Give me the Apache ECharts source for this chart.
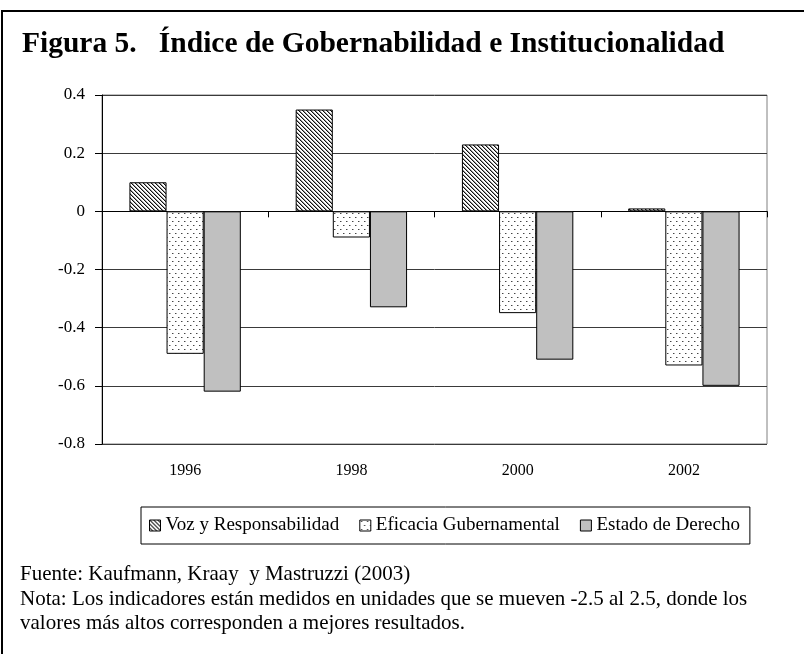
<!DOCTYPE html>
<html>
<head>
<meta charset="utf-8">
<script src="https://cdn.jsdelivr.net/npm/echarts@6/dist/echarts.min.js"></script>
<style>
  html, body { margin: 0; padding: 0; background: #fff; }
  #chart { width: 804px; height: 654px; }
</style>
</head>
<body>
<div id="chart"></div>
<script>
  const years = ['1996', '1998', '2000', '2002']
  const seriesNames = ['Voz y Responsabilidad', 'Eficacia Gubernamental', 'Estado de Derecho']
  const voz = [0.10, 0.35, 0.23, 0.01]
  const eficacia = [-0.49, -0.09, -0.35, -0.53]
  const estado = [-0.62, -0.33, -0.51, -0.60]
  const yTicks = { min: -0.8, max: 0.4, step: 0.2 }

  const titleText = 'Figura 5.   Índice de Gobernabilidad e Institucionalidad'
  const footLines = [
    'Fuente: Kaufmann, Kraay  y Mastruzzi (2003)',
    'Nota: Los indicadores están medidos en unidades que se mueven -2.5 al 2.5, donde los',
    'valores más altos corresponden a mejores resultados.'
  ]

  const serif = '"Liberation Serif", "Times New Roman", serif'

  // diagonal hatch tile
  function hatchTile() {
    const c = document.createElement('canvas')
    c.width = 4; c.height = 4
    const ctx = c.getContext('2d')
    ctx.fillStyle = '#fff'
    ctx.fillRect(0, 0, 4, 4)
    for (let y = 0; y < 4; y++) {
      for (let x = 0; x < 4; x++) {
        const d = ((x - y) % 4 + 4) % 4
        if (d === 0) { ctx.fillStyle = '#111'; ctx.fillRect(x, y, 1, 1) }
        else if (d === 1) { ctx.fillStyle = '#999'; ctx.fillRect(x, y, 1, 1) }
      }
    }
    return c
  }

  // sparse dot tile
  function dotTile() {
    const c = document.createElement('canvas')
    c.width = 6; c.height = 8
    const ctx = c.getContext('2d')
    ctx.fillStyle = '#fff'
    ctx.fillRect(0, 0, 6, 8)
    ctx.fillStyle = '#444'
    ctx.fillRect(1, 1, 1, 1)
    ctx.fillRect(4, 5, 1, 1)
    ctx.fillStyle = '#aaa'
    ctx.fillRect(2, 1, 1, 1)
    ctx.fillRect(5, 5, 1, 1)
    return c
  }

  const fills = [
    { image: hatchTile(), repeat: 'repeat' },
    { image: dotTile(), repeat: 'repeat' },
    '#c0c0c0'
  ]
  const values = [voz, eficacia, estado]

  const chart = echarts.init(document.getElementById('chart'), null, { renderer: 'canvas' })
  chart.setOption({
    backgroundColor: '#fff',
    animation: false,
    title: {
      text: titleText,
      left: 17,
      top: 24,
      textStyle: { fontFamily: serif, fontWeight: 'bold', fontSize: 29.5, color: '#000' }
    },
    grid: {
      left: 102, top: 95, right: 37, bottom: 210,
      show: true, borderColor: '#808080', borderWidth: 1, backgroundColor: '#fff'
    },
    legend: {
      left: 141,
      top: 507,
      padding: [9, 10, 9, 8],
      borderColor: '#000',
      borderWidth: 1,
      itemWidth: 11,
      itemHeight: 11,
      itemGap: 20,
      icon: 'rect',
      itemStyle: { borderColor: '#000', borderWidth: 1 },
      textStyle: { fontFamily: serif, fontSize: 19, color: '#000', padding: [0, 0, 0, 0] },
      data: seriesNames
    },
    xAxis: [{
      type: 'category',
      data: years,
      axisLine: { onZero: true, lineStyle: { color: '#000', width: 1 } },
      axisTick: { show: true, length: 6, lineStyle: { color: '#000' } },
      axisLabel: { show: false },
      splitLine: { show: false }
    }, {
      type: 'category',
      data: years,
      position: 'bottom',
      axisLine: { show: false, onZero: false },
      axisTick: { show: false },
      axisLabel: { fontFamily: serif, fontSize: 16, color: '#000', margin: 19 }
    }],
    yAxis: {
      type: 'value',
      min: yTicks.min,
      max: yTicks.max,
      interval: yTicks.step,
      axisLine: { show: true, lineStyle: { color: '#000' } },
      axisTick: { show: true, length: 7, lineStyle: { color: '#000' } },
      axisLabel: {
        fontFamily: serif, fontSize: 17, color: '#000', margin: 17,
        formatter: v => String(+v.toFixed(1))
      },
      splitLine: { lineStyle: { color: '#3a3a3a', width: 1 } }
    },
    series: seriesNames.map((name, i) => ({
      name,
      type: 'bar',
      xAxisIndex: 0,
      data: values[i],
      barGap: '0%',
      barCategoryGap: '33%',
      itemStyle: { color: fills[i], borderColor: '#000', borderWidth: 1 }
    })),
    graphic: [
      { type: 'line', shape: { x1: 2, y1: 11, x2: 804, y2: 11 }, style: { stroke: '#000', lineWidth: 2 } },
      { type: 'line', shape: { x1: 2, y1: 10, x2: 2, y2: 654 }, style: { stroke: '#000', lineWidth: 2 } }
    ].concat(footLines.map((t, i) => ({
      type: 'text',
      left: 20,
      top: 564 + i * 24.5,
      style: { text: t, fontFamily: serif, fontSize: 21, fill: '#000' }
    })))
  })
</script>
</body>
</html>
